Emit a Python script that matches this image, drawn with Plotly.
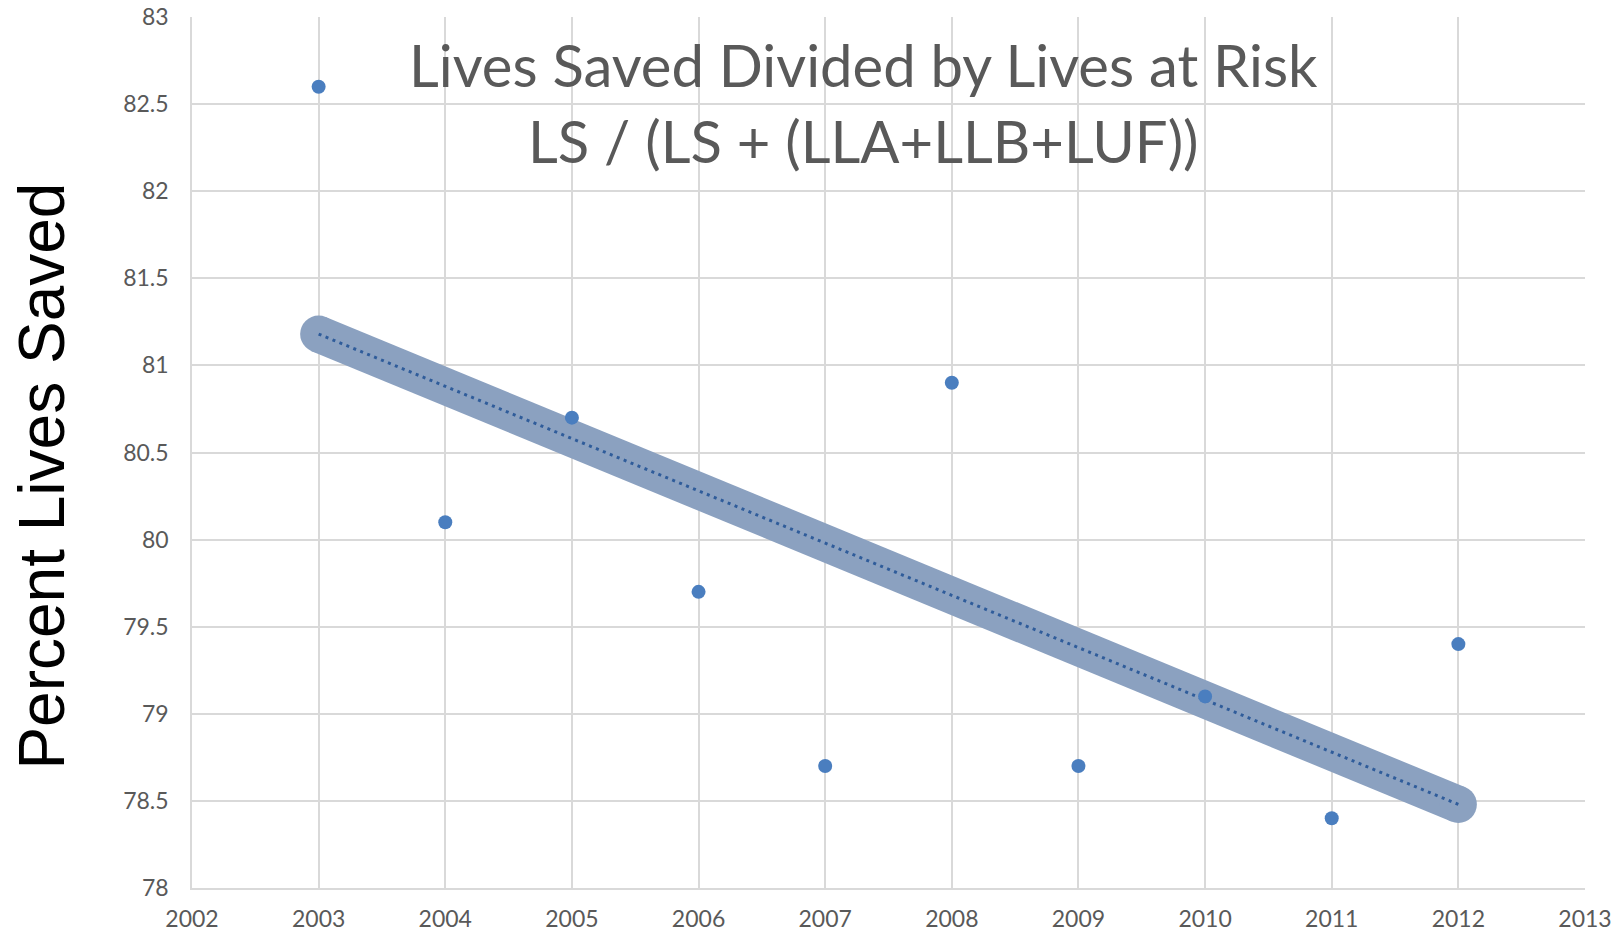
import numpy as np
import plotly.graph_objects as go

years = [2003, 2004, 2005, 2006, 2007, 2008, 2009, 2010, 2011, 2012]
pct_saved = [82.6, 80.1, 80.7, 79.7, 78.7, 80.9, 78.7, 79.1, 78.4, 79.4]
x_ticks = list(range(2002, 2014))
y_ticks = [78, 78.5, 79, 79.5, 80, 80.5, 81, 81.5, 82, 82.5, 83]
title_lines = ["Lives Saved Divided by Lives at Risk", "LS / (LS + (LLA+LLB+LUF))"]
y_title = "Percent Lives Saved"

slope, intercept = np.polyfit(years, pct_saved, 1)
trend_x = [years[0], years[-1]]
trend_y = [slope * x + intercept for x in trend_x]

band_color = "#8BA1C0"
fig = go.Figure()
fig.add_trace(go.Scatter(x=trend_x, y=trend_y, mode="lines+markers",
                         line=dict(color=band_color, width=37),
                         marker=dict(color=band_color, size=37, line=dict(width=0)),
                         hoverinfo="skip", showlegend=False))
fig.add_trace(go.Scatter(x=trend_x, y=trend_y, mode="lines",
                         line=dict(color="#2F5C9A", width=3, dash="3px,4.5px"),
                         showlegend=False))
fig.add_trace(go.Scatter(x=years, y=pct_saved, mode="markers",
                         marker=dict(color="#4A7EBF", size=14, line=dict(width=0)),
                         showlegend=False))

grid = "#D9D9D9"
tickfont = dict(family="Lato, Open Sans, sans-serif", size=23, color="#595959")
fig.update_layout(
    template="none",
    width=1624, height=932,
    margin=dict(l=192, r=39, t=17, b=44),
    paper_bgcolor="white", plot_bgcolor="white",
    xaxis=dict(range=[2002, 2013], tickvals=x_ticks, ticktext=[str(v) for v in x_ticks],
               showgrid=True, gridcolor=grid, gridwidth=1.5, zeroline=False,
               showline=True, linecolor=grid, linewidth=1.5, ticks="",
               automargin=False, tickfont=tickfont, ticklabelstandoff=10),
    yaxis=dict(range=[78, 83], tickvals=y_ticks, ticktext=[f"{v:g}" for v in y_ticks],
               showgrid=True, gridcolor=grid, gridwidth=1.5, zeroline=False,
               showline=True, linecolor=grid, linewidth=1.5, ticks="",
               automargin=False, tickfont=tickfont, ticklabelstandoff=17),
    annotations=[
        dict(text=title_lines[0], xref="paper", yref="paper", x=0.482, y=0.945,
             xanchor="center", yanchor="middle", showarrow=False,
             font=dict(family="Lato, Open Sans, sans-serif", size=58, color="#595959")),
        dict(text=title_lines[1], xref="paper", yref="paper", x=0.482, y=0.858,
             xanchor="center", yanchor="middle", showarrow=False,
             font=dict(family="Lato, Open Sans, sans-serif", size=58, color="#595959")),
        dict(text=y_title, xref="paper", yref="paper", x=-0.108, y=0.473,
             xanchor="center", yanchor="middle", textangle=-90, showarrow=False,
             font=dict(family="Liberation Sans, Arial, sans-serif", size=64, color="black")),
    ],
)
fig.write_html("out.html", config={"displayModeBar": False},
               post_script="document.body.style.margin='0';document.body.style.overflow='hidden';")
